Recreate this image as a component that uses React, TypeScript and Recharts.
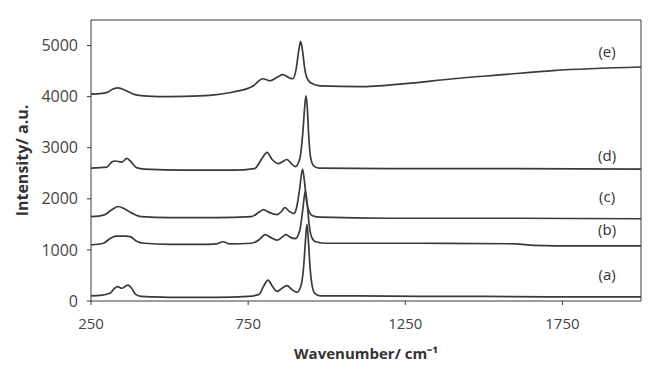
import { LineChart, Line, XAxis, YAxis, ReferenceLine, ReferenceDot } from 'recharts';

// Raman spectra, [wavenumber, intensity]
const spectrumA: [number, number][] = [
  [250, 100], [280, 110], [310, 150], [325, 250], [335, 280], [348, 250], [360, 290], [368, 310], [378, 260],
  [392, 130], [410, 90], [450, 80], [550, 70], [650, 70], [750, 90], [785, 130], [800, 300], [813, 410],
  [826, 300], [842, 190], [860, 260], [874, 300], [888, 230], [905, 170], [918, 300], [927, 700], [932, 1150],
  [937, 1500], [942, 1150], [947, 650], [953, 320], [962, 150], [980, 100], [1100, 100], [1300, 90], [1500, 90],
  [1700, 80], [2000, 80],
];
const spectrumB: [number, number][] = [
  [250, 1100], [290, 1130], [310, 1220], [330, 1270], [360, 1270], [375, 1260], [395, 1170], [420, 1130],
  [500, 1110], [600, 1110], [650, 1120], [670, 1160], [690, 1120], [760, 1130], [785, 1200], [804, 1300],
  [820, 1250], [842, 1190], [860, 1260], [870, 1300], [883, 1250], [900, 1220], [915, 1400], [924, 1800],
  [932, 2150], [938, 1900], [944, 1500], [952, 1250], [965, 1160], [1000, 1130], [1300, 1130], [1600, 1120],
  [1660, 1090], [1800, 1080], [2000, 1080],
];
const spectrumC: [number, number][] = [
  [250, 1650], [290, 1680], [315, 1780], [337, 1850], [355, 1810], [380, 1720], [410, 1650], [500, 1630],
  [650, 1630], [760, 1650], [785, 1740], [799, 1790], [815, 1740], [842, 1690], [857, 1760], [867, 1830],
  [880, 1760], [895, 1710], [905, 1850], [914, 2200], [923, 2580], [929, 2350], [936, 1950], [944, 1750],
  [955, 1670], [980, 1640], [1200, 1620], [1600, 1620], [2000, 1610],
];
const spectrumD: [number, number][] = [
  [250, 2600], [300, 2620], [316, 2720], [326, 2740], [348, 2720], [364, 2790], [375, 2740], [395, 2610],
  [420, 2580], [550, 2560], [700, 2560], [770, 2590], [795, 2800], [810, 2910], [825, 2780], [847, 2690],
  [863, 2740], [873, 2770], [886, 2700], [900, 2630], [915, 2800], [924, 3300], [930, 3800], [934, 4015],
  [938, 3800], [943, 3200], [949, 2800], [958, 2650], [975, 2600], [1200, 2590], [1600, 2590], [2000, 2580],
];
const spectrumE: [number, number][] = [
  [250, 4050], [300, 4080], [320, 4150], [337, 4170], [360, 4120], [390, 4040], [430, 4010], [500, 4000],
  [597, 4015], [650, 4040], [702, 4090], [766, 4210], [797, 4350], [820, 4310], [845, 4390], [861, 4430],
  [880, 4370], [892, 4350], [903, 4550], [911, 4900], [917, 5080], [923, 4900], [930, 4550], [940, 4330],
  [955, 4250], [980, 4210], [1106, 4195], [1243, 4250], [1402, 4350], [1561, 4430], [1720, 4510], [2000, 4580],
];

const xTicks = [250, 750, 1250, 1750];
const yTicks = [0, 1000, 2000, 3000, 4000, 5000];
const sampleLabels = ['(a)', '(b)', '(c)', '(d)', '(e)'];
const labelHeights = [512, 1397, 2047, 2854, 4880];

const series = [spectrumA, spectrumB, spectrumC, spectrumD, spectrumE];
const toRows = (s: [number, number][]) => s.map(([x, y]) => ({ x, y }));

const ink = '#3a3a3a';
const font = '"Open Sans", sans-serif';

export default function App() {
  return (
    <div style={{ position: 'absolute', left: 0, top: 0, width: 650, height: 369, background: '#fff', fontFamily: font }}>
      <LineChart width={650} height={369} margin={{ top: 20, right: 9, left: 0, bottom: 0 }}>
        <XAxis
          dataKey="x"
          type="number"
          domain={[250, 2000]}
          ticks={xTicks}
          allowDataOverflow
          height={68}
          stroke={ink}
          tickSize={4}
          tickMargin={13}
          tick={{ fill: '#444', fontSize: 15, fontFamily: font }}
          label={{ value: 'Wavenumber/ cm⁻¹', position: 'insideBottom', offset: 10, fill: '#333', fontSize: 15, fontWeight: 700, fontFamily: font }}
        />
        <YAxis
          type="number"
          domain={[0, 5500]}
          ticks={yTicks}
          allowDataOverflow
          width={91}
          stroke={ink}
          tickSize={4}
          tickMargin={9}
          tick={{ fill: '#444', fontSize: 16, fontFamily: font }}
          label={{ value: 'Intensity/ a.u.', angle: -90, position: 'insideLeft', offset: 22, fill: '#333', fontSize: 16, fontWeight: 700, fontFamily: font, style: { textAnchor: 'middle' } }}
        />
        <ReferenceLine y={5500} stroke={ink} />
        <ReferenceLine x={2000} stroke={ink} />
        {series.map((s, i) => (
          <Line
            key={sampleLabels[i]}
            data={toRows(s)}
            dataKey="y"
            type="monotone"
            stroke={ink}
            strokeWidth={1.7}
            dot={false}
            isAnimationActive={false}
          />
        ))}
        {sampleLabels.map((lab, i) => (
          <ReferenceDot
            key={lab}
            x={1892}
            y={labelHeights[i]}
            r={0}
            stroke="none"
            fill="none"
            label={{ value: lab, position: 'center', fill: '#333', fontSize: 15, fontFamily: font }}
          />
        ))}
      </LineChart>
    </div>
  );
}
